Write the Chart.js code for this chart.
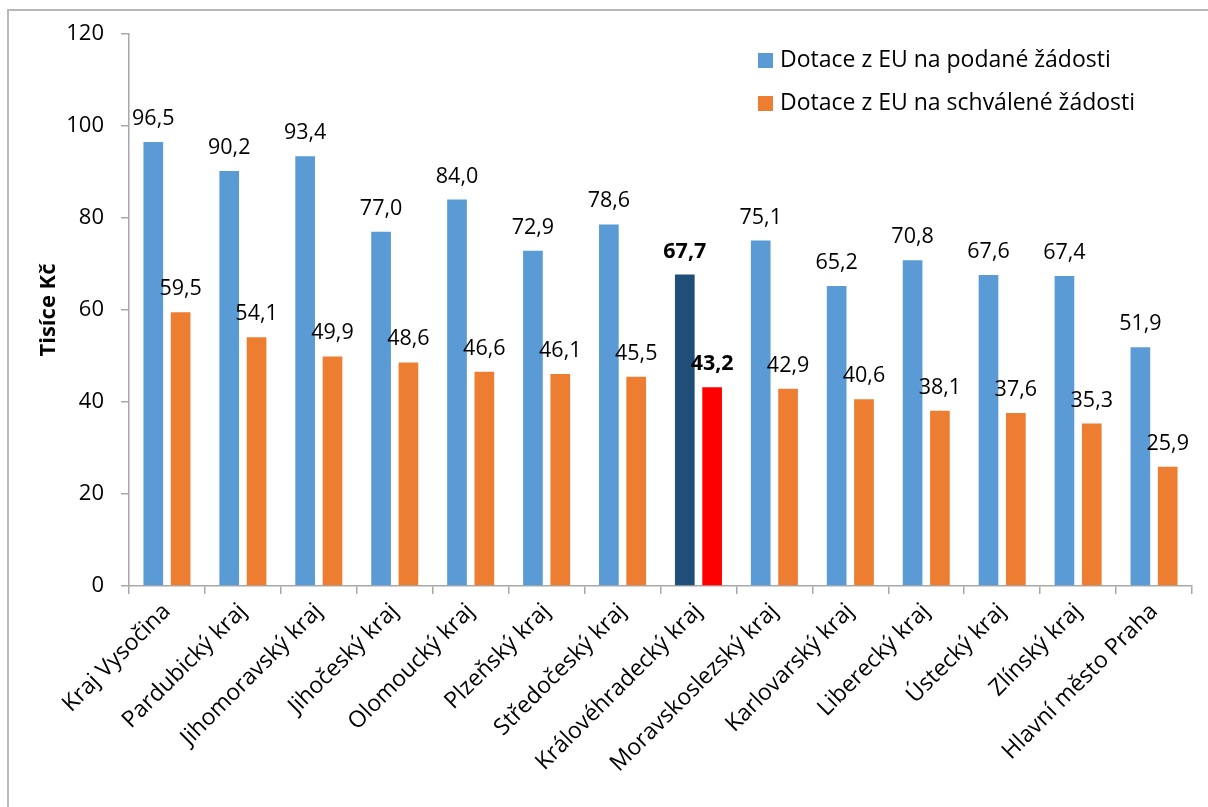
<!DOCTYPE html>
<html><head><meta charset="utf-8">
<script src="https://cdn.jsdelivr.net/npm/chart.js@4.4.1/dist/chart.umd.min.js"></script>
<style>
html,body{margin:0;padding:0;background:#fff;width:1208px;height:807px;overflow:hidden;}
#frame{position:absolute;left:7px;top:9px;width:1220px;height:820px;border-left:2px solid #b8b8b8;border-top:2px solid #b8b8b8;}
#wrap{position:absolute;left:0;top:0;width:1208px;height:807px;}
</style></head><body>
<div id="frame"></div>
<div id="wrap"><canvas id="c" width="1208" height="807"></canvas></div>
<script>
const categories = ['Kraj Vysočina','Pardubický kraj','Jihomoravský kraj','Jihočeský kraj','Olomoucký kraj','Plzeňský kraj','Středočeský kraj','Královéhradecký kraj','Moravskoslezský kraj','Karlovarský kraj','Liberecký kraj','Ústecký kraj','Zlínský kraj','Hlavní město Praha'];
const podane = [96.5, 90.2, 93.4, 77.0, 84.0, 72.9, 78.6, 67.7, 75.1, 65.2, 70.8, 67.6, 67.4, 51.9];
const schvalene = [59.5, 54.1, 49.9, 48.6, 46.6, 46.1, 45.5, 43.2, 42.9, 40.6, 38.1, 37.6, 35.3, 25.9];
const seriesNames = ['Dotace z EU na podané žádosti', 'Dotace z EU na schválené žádosti'];
const yTicks = [0, 20, 40, 60, 80, 100, 120];
const yTitle = 'Tisíce Kč';
const highlighted = 'Královéhradecký kraj';

const FONT = "'Open Sans', sans-serif";
const AXIS = '#a8a8a8';
const hi = categories.indexOf(highlighted);
const fmt = v => v.toFixed(1).replace('.', ',');

const labelPlugin = {
  id: 'valueLabels',
  afterDatasetsDraw(chart) {
    const ctx = chart.ctx;
    ctx.save();
    ctx.fillStyle = '#000';
    ctx.textAlign = 'center';
    ctx.textBaseline = 'alphabetic';
    chart.data.datasets.forEach((ds, di) => {
      const meta = chart.getDatasetMeta(di);
      meta.data.forEach((el, i) => {
        ctx.font = (i === hi ? 'bold ' : '') + '21.5px ' + FONT;
        ctx.fillText(fmt(ds.data[i]), el.x, el.y - 17);
      });
    });
    ctx.restore();
  }
};

const legendPlugin = {
  id: 'cornerLegend',
  afterDraw(chart, args, opts) {
    const ctx = chart.ctx;
    ctx.save();
    ctx.font = opts.size + 'px ' + FONT;
    ctx.textBaseline = 'middle';
    ctx.textAlign = 'left';
    chart.data.datasets.forEach((ds, di) => {
      const cy = opts.y + di * opts.gap;
      ctx.fillStyle = ds.legendColor;
      ctx.fillRect(opts.x, cy - 7, 15, 15);
      ctx.fillStyle = '#000';
      ctx.fillText(ds.label, opts.x + 22, cy);
    });
    ctx.restore();
  }
};

new Chart(document.getElementById('c'), {
  type: 'bar',
  data: {
    labels: categories,
    datasets: [
      { label: seriesNames[0], data: podane, legendColor: '#5B9BD5',
        backgroundColor: categories.map((c, i) => i === hi ? '#1F4E79' : '#5B9BD5'),
        categoryPercentage: 0.72, barPercentage: 0.72 },
      { label: seriesNames[1], data: schvalene, legendColor: '#ED7D31',
        backgroundColor: categories.map((c, i) => i === hi ? '#FF0000' : '#ED7D31'),
        categoryPercentage: 0.72, barPercentage: 0.72 }
    ]
  },
  options: {
    responsive: false,
    animation: false,
    devicePixelRatio: 1,
    layout: { padding: { left: 0, top: 34, right: 16, bottom: 0 } },
    plugins: {
      legend: { display: false },
      tooltip: { enabled: false },
      cornerLegend: { x: 758, y: 60, gap: 43, size: 23 }
    },
    scales: {
      x: {
        offset: true,
        grid: { offset: true, drawOnChartArea: false, tickLength: 8, color: AXIS, lineWidth: 1.5 },
        border: { color: AXIS, width: 1.5 },
        ticks: { autoSkip: false, maxRotation: 45, minRotation: 45, font: { family: FONT, size: 23 }, color: '#000', padding: 4 },
        afterFit(s) { s.height = 221; }
      },
      y: {
        min: 0, max: 120,
        afterBuildTicks(s) { s.ticks = yTicks.map(v => ({ value: v })); },
        grid: { drawOnChartArea: false, tickLength: 8, color: AXIS, lineWidth: 1.5 },
        border: { color: AXIS, width: 1.5 },
        ticks: { font: { family: FONT, size: 22 }, color: '#000', padding: 17 },
        title: { display: true, text: yTitle, font: { family: FONT, size: 22, weight: 'bold' }, color: '#000', padding: { top: 36, bottom: 0 } },
        afterFit(s) { s.width = 129; }
      }
    }
  },
  plugins: [labelPlugin, legendPlugin]
});
</script>
</body></html>
